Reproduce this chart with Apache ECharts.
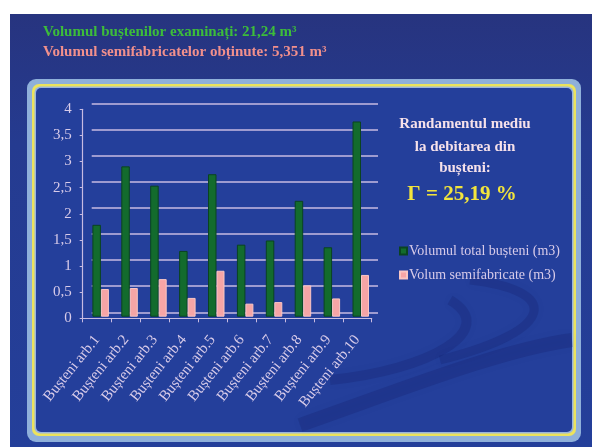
<!DOCTYPE html>
<html>
<head>
<meta charset="utf-8">
<script src="https://cdn.jsdelivr.net/npm/echarts@6/dist/echarts.min.js"></script>
<style>
  html, body { margin: 0; padding: 0; background: #fff; }
  #chart { width: 592px; height: 447px; }
</style>
</head>
<body>
<div id="chart"></div>
<script>
  // data
  const categories = ['Bușteni arb.1', 'Bușteni arb.2', 'Bușteni arb.3', 'Bușteni arb.4', 'Bușteni arb.5',
    'Bușteni arb.6', 'Bușteni arb.7', 'Bușteni arb.8', 'Bușteni arb.9', 'Bușteni arb.10']
  const volumTotal = [1.76, 2.88, 2.51, 1.26, 2.73, 1.38, 1.46, 2.22, 1.33, 3.74]
  const volumSemi = [0.53, 0.55, 0.72, 0.36, 0.88, 0.25, 0.28, 0.60, 0.35, 0.80]
  const yTicks = ['0', '0,5', '1', '1,5', '2', '2,5', '3', '3,5', '4']
  const seriesNames = ['Volumul total bușteni (m3)', 'Volum semifabricate (m3)']

  const serif = 'Liberation Serif'
  const lavender = '#d8cbe9'
  const gridColor = '#c7bbe2'
  const swoosh = 'rgba(15,25,95,0.2)'

  const chart = echarts.init(document.getElementById('chart'))

  chart.setOption({
    backgroundColor: '#ffffff',
    animation: false,
    graphic: [
      // slide background
      { type: 'rect', z: -10, shape: { x: 10, y: 14, width: 582, height: 433 },
        style: { fill: new echarts.graphic.LinearGradient(0, 0, 0, 1, [
          { offset: 0, color: '#27347f' }, { offset: 0.3, color: '#253b90' }, { offset: 1, color: '#243f9a' }]) } },
      // frame of the chart panel
      { type: 'rect', z: -9, shape: { x: 27, y: 79, width: 554, height: 363, r: 9 }, style: { fill: '#8fb0da' } },
      { type: 'rect', z: -8, shape: { x: 32, y: 84, width: 544, height: 352, r: 7 }, style: { fill: '#ece35c' } },
      { type: 'rect', z: -7, shape: { x: 34.5, y: 86.5, width: 539, height: 347, r: 6 }, style: { fill: '#9ab5de' } },
      { type: 'rect', z: -6, shape: { x: 36, y: 88, width: 536, height: 344, r: 5 }, style: { fill: '#243f9b' } },
      // faint swooshes in the background
      { type: 'bezierCurve', z: -5, shape: { x1: 300, y1: 425, x2: 572, y2: 340, cpx1: 400, cpy1: 390, cpx2: 500, cpy2: 350 },
        style: { stroke: swoosh, lineWidth: 14, fill: null, shadowBlur: 8, shadowColor: swoosh } },
      { type: 'bezierCurve', z: -5, shape: { x1: 330, y1: 380, x2: 450, y2: 300, cpx1: 430, cpy1: 370, cpx2: 500, cpy2: 330 },
        style: { stroke: swoosh, lineWidth: 10, fill: null, shadowBlur: 8, shadowColor: swoosh } },
      { type: 'bezierCurve', z: -5, shape: { x1: 440, y1: 360, x2: 470, y2: 280, cpx1: 560, cpy1: 330, cpx2: 560, cpy2: 290 },
        style: { stroke: swoosh, lineWidth: 9, fill: null, shadowBlur: 8, shadowColor: swoosh } },
      // heading lines
      { type: 'text', x: 43, y: 32, style: { text: 'Volumul buștenilor examinați: 21,24 m³', fill: '#3dbd3a',
        font: 'bold 15px "Liberation Serif"', textVerticalAlign: 'middle' } },
      { type: 'text', x: 43, y: 52, style: { text: 'Volumul semifabricatelor obținute: 5,351 m³', fill: '#f2908c',
        font: 'bold 15px "Liberation Serif"', textVerticalAlign: 'middle' } },
      // note on the right
      { type: 'text', x: 465, y: 124, style: { text: 'Randamentul mediu', fill: '#f6e1ea',
        font: 'bold 15px "Liberation Serif"', textAlign: 'center', textVerticalAlign: 'middle' } },
      { type: 'text', x: 465, y: 147, style: { text: 'la debitarea din', fill: '#f6e1ea',
        font: 'bold 15px "Liberation Serif"', textAlign: 'center', textVerticalAlign: 'middle' } },
      { type: 'text', x: 465, y: 168, style: { text: 'bușteni:', fill: '#f6e1ea',
        font: 'bold 15px "Liberation Serif"', textAlign: 'center', textVerticalAlign: 'middle' } },
      { type: 'text', x: 462, y: 195, style: { text: 'Γ = 25,19 %', fill: '#f2e43c',
        font: 'bold 21px "Liberation Serif"', textAlign: 'center', textVerticalAlign: 'middle' } }
    ],
    legend: {
      data: seriesNames,
      orient: 'vertical',
      left: 394,
      top: 239,
      itemWidth: 7,
      itemHeight: 7,
      itemGap: 10,
      icon: 'rect',
      textStyle: { color: lavender, fontFamily: serif, fontSize: 14, padding: [0, 0, 0, -3] }
    },
    grid: [
      // back wall (gridlines)
      { left: 91.7, right: 214, top: 103.3, bottom: 134.7 },
      // front axes
      { left: 82.7, right: 220.3, top: 109.3, bottom: 128.7 },
      // bars
      { left: 86.2, right: 216.8, top: 107.9, bottom: 130.3 }
    ],
    xAxis: [
      { gridIndex: 0, type: 'category', data: categories, show: false },
      {
        gridIndex: 1, type: 'category', data: categories,
        axisLine: { lineStyle: { color: gridColor, width: 1.2 } },
        axisTick: { show: true, length: 4, lineStyle: { color: gridColor } },
        axisLabel: { rotate: 51, margin: 19, color: lavender, fontFamily: serif, fontSize: 15, interval: 0 }
      },
      { gridIndex: 2, type: 'category', data: categories, show: false }
    ],
    yAxis: [
      {
        gridIndex: 0, type: 'value', min: 0, max: 4, interval: 0.5,
        axisLine: { show: false }, axisTick: { show: false }, axisLabel: { show: false },
        splitLine: { lineStyle: { color: gridColor, width: 1.5 } }
      },
      {
        gridIndex: 1, type: 'value', min: 0, max: 4, interval: 0.5,
        axisLine: { show: true, lineStyle: { color: gridColor, width: 1.2 } },
        axisTick: { show: true, length: 3, lineStyle: { color: gridColor } },
        splitLine: { show: false },
        axisLabel: {
          color: lavender, fontFamily: serif, fontSize: 15, margin: 11,
          formatter: v => yTicks[Math.round(v * 2)]
        }
      },
      { gridIndex: 2, type: 'value', min: 0, max: 4, show: false, splitLine: { show: false } }
    ],
    series: [
      {
        name: seriesNames[0], type: 'bar', xAxisIndex: 2, yAxisIndex: 2,
        data: volumTotal, barWidth: 8.5, barGap: '0%',
        itemStyle: { color: '#136b2d', borderColor: '#0a4420', borderWidth: 1 }
      },
      {
        name: seriesNames[1], type: 'bar', xAxisIndex: 2, yAxisIndex: 2,
        data: volumSemi, barWidth: 8,
        itemStyle: { color: '#f6a5a6', borderColor: '#f9c6c4', borderWidth: 1 }
      }
    ]
  })
</script>
</body>
</html>
